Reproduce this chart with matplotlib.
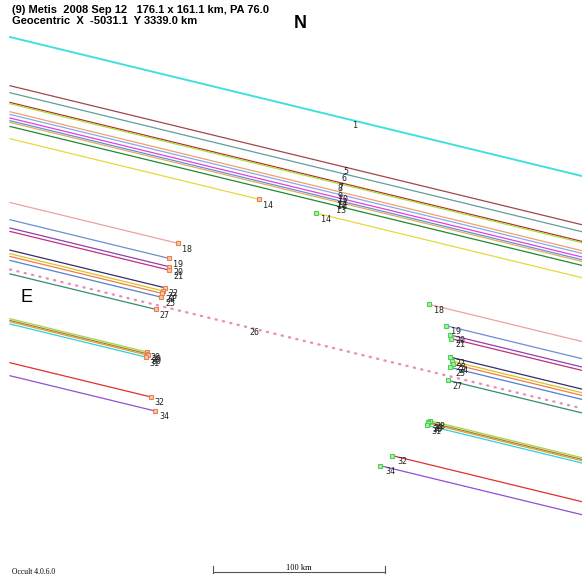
import matplotlib
matplotlib.use('Agg')
import matplotlib.pyplot as plt

# chord geometry in screen pixels (x right, y down)
slope = 0.243
x_left, x_right = 10, 582

chord_ids = ['1', '5', '6', '7', '8', '9', '10', '11', '12', '16', '13', '14',
             '18', '19', '20', '21', '22', '23', '24', '25', '26', '27',
             '28', '29', '30', '31', '32', '34']
chord_y0 = [34.6, 83.3, 90.3, 100.0, 101.3, 109.3, 112.0, 115.6, 118.3, 120.0, 124.0, 136.3,
            200.1, 217.3, 225.6, 229.0, 247.7, 251.3, 254.0, 258.0, 267.0, 271.5,
            316.3, 318.0, 319.3, 321.6, 360.3, 373.3]
chord_colors = ['#40e0e0', '#a04848', '#5f9ea0', '#b83030', '#a8e040', '#f0a070',
                '#88aae8', '#e040e0', '#6090e0', '#e0b050', '#208838', '#e8d840',
                '#f0a0a0', '#6a8fd0', '#9040b0', '#c03080', '#303070', '#e0c020',
                '#f08040', '#5080d0', '#e878b0', '#309070',
                '#a8d040', '#a08040', '#e0a030', '#30d0e0', '#e03030', '#9050d0']
# disappearance / reappearance x (None = miss, no event)
disappear_x = [None] * 11 + [259, 177.7, 168.7, 169, 169, 164.7, 163.3, 161.7, 161,
                             None, 155.7, 146.7, 147, 147.5, 145.7, 150.7, 155]
reappear_x = [None] * 11 + [316, 429.3, 445.7, 450, 450.7, 450, 451.7, 453.3, 450,
                            None, 447.7, 430, 428, 427.5, 426.7, 392.3, 380]
miss_label_x = {'1': 353, '5': 343, '6': 341, '7': 338, '8': 338, '9': 338, '10': 338,
                '11': 338, '12': 337, '16': 337, '13': 336, '26': 249}

title1 = '(9) Metis  2008 Sep 12   176.1 x 161.1 km, PA 76.0'
title2 = 'Geocentric  X  -5031.1  Y 3339.0 km'
scale_km = 100
scale_px = 172

fig = plt.figure(figsize=(5.82, 5.75), dpi=100)
ax = fig.add_axes([0, 0, 1, 1])
ax.set_xlim(0, 582)
ax.set_ylim(575, 0)
ax.axis('off')


def yat(y0, x):
    return y0 + slope * x


lab_font = dict(fontsize=6, family='DejaVu Sans Mono', color='#222222')

for cid, y0, col, xd, xr in zip(chord_ids, chord_y0, chord_colors, disappear_x, reappear_x):
    lw = 1.4 if cid == '1' else 0.9
    if cid == '26':
        ax.plot([x_left, x_right], [yat(y0, x_left), yat(y0, x_right)], color=col,
                lw=1.7, dashes=(0.5, 2.7), dash_capstyle='round', alpha=0.85)
    elif xd is None:
        ax.plot([x_left, x_right], [yat(y0, x_left), yat(y0, x_right)], color=col, lw=lw)
    else:
        ax.plot([x_left, xd], [yat(y0, x_left), yat(y0, xd)], color=col, lw=lw)
        ax.plot([xr, x_right], [yat(y0, xr), yat(y0, x_right)], color=col, lw=lw)
    if xd is None:
        lx = miss_label_x[cid]
        ax.text(lx, yat(y0, lx) + 5, cid, ha='left', va='center', **lab_font)

# event markers and labels drawn on top
for cid, y0, xd, xr in zip(chord_ids, chord_y0, disappear_x, reappear_x):
    if xd is None:
        continue
    ax.plot(xd, yat(y0, xd), 's', ms=3.0, mfc='#f8c8a8', mec='#e88050', mew=0.8)
    ax.plot(xr, yat(y0, xr), 's', ms=3.0, mfc='#a8f0a8', mec='#50d050', mew=0.8)
    ax.text(xd + 4, yat(y0, xd) + 6, cid, ha='left', va='center', **lab_font)
    ax.text(xr + 5, yat(y0, xr) + 6, cid, ha='left', va='center', **lab_font)

ax.text(12, 10, title1, ha='left', va='center', fontsize=8, fontweight='bold',
        family='Liberation Sans')
ax.text(12, 21, title2, ha='left', va='center', fontsize=8, fontweight='bold',
        family='Liberation Sans')
ax.text(300, 24, 'N', ha='center', va='center', fontsize=13, fontweight='bold',
        family='Liberation Sans')
ax.text(26, 297, 'E', ha='center', va='center', fontsize=13, family='Liberation Sans')

# footer
ax.text(12, 572, 'Occult 4.0.6.0', ha='left', va='center', fontsize=5.5,
        family='Liberation Serif')
sx0 = 213
ax.plot([sx0, sx0 + scale_px], [572, 572], color='#555555', lw=0.8)
ax.plot([sx0, sx0], [566, 573], color='#555555', lw=0.8)
ax.plot([sx0 + scale_px, sx0 + scale_px], [566, 573], color='#555555', lw=0.8)
ax.text(sx0 + scale_px / 2, 568, f'{scale_km} km', ha='center', va='center', fontsize=6,
        family='Liberation Serif')

fig.savefig('out.png', dpi=100)
